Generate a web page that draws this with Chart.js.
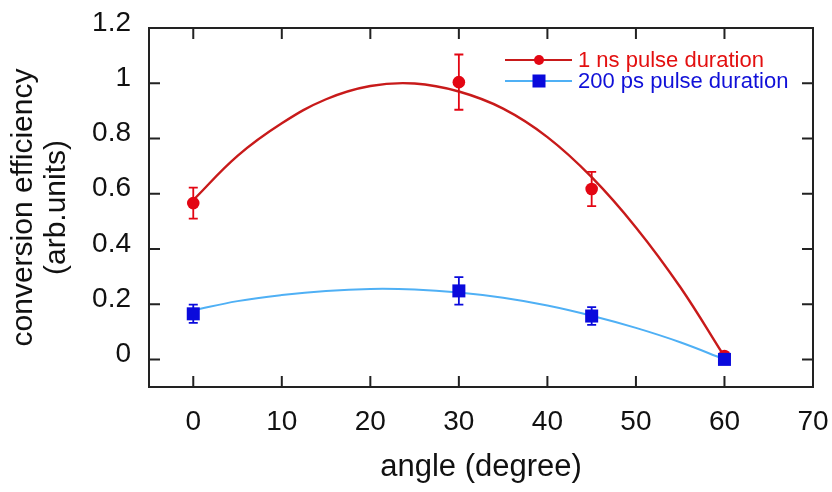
<!DOCTYPE html>
<html>
<head>
<meta charset="utf-8">
<script src="https://cdn.jsdelivr.net/npm/chart.js@4"></script>
<style>
  html, body { margin: 0; padding: 0; background: #fff; }
  #wrap { width: 832px; height: 492px; }
</style>
</head>
<body>
<div id="wrap"><canvas id="c" width="832" height="492"></canvas></div>
<script>
// ---- data ----
const xTicks = [0, 10, 20, 30, 40, 50, 60, 70];
const yTicks = [0, 0.2, 0.4, 0.6, 0.8, 1, 1.2];
const yTickLabels = ['0', '0.2', '0.4', '0.6', '0.8', '1', '1.2'];

const angles = [0, 30, 45, 60];
const ns1Values = [0.566, 1.004, 0.617, 0.012];
const ns1Errors = [0.056, 0.100, 0.062, 0];
const ps200Values = [0.165, 0.248, 0.157, 0.000];
const ps200Errors = [0.033, 0.050, 0.032, 0];

const fitAngles = [0, 5, 10, 15, 20, 25, 30, 35, 40, 45, 50, 55, 60];
const ns1Fit   = [0.577, 0.737, 0.855, 0.942, 0.990, 0.999, 0.970, 0.908, 0.805, 0.660, 0.478, 0.262, 0.010];
const ps200Fit = [0.178, 0.211, 0.233, 0.248, 0.255, 0.253, 0.242, 0.223, 0.195, 0.158, 0.114, 0.062, 0.000];

const seriesLabels = ['1 ns pulse duration', '200 ps pulse duration'];

// ---- helpers ----
const pts = (xs, ys) => xs.map((x, i) => ({ x: x, y: ys[i] }));
const FONT = "'Liberation Sans', Arial, Helvetica, sans-serif";
Chart.defaults.font.family = FONT;
Chart.defaults.color = '#111';

const RED_PT = '#e30613', RED_LINE = '#c81a1a';
const BLUE_PT = '#0a0adc', BLUE_LINE = '#4fb0f5';

const errorBars = {
  id: 'errorBars',
  beforeDatasetsDraw(chart) {
    const ctx = chart.ctx, xs = chart.scales.x, ys = chart.scales.y;
    chart.data.datasets.forEach((ds) => {
      if (!ds.errors) return;
      ctx.save();
      ctx.strokeStyle = ds.borderColor;
      ctx.lineWidth = 1.8;
      ds.data.forEach((p, i) => {
        const e = ds.errors[i];
        if (!e) return;
        const px = xs.getPixelForValue(p.x);
        const y1 = ys.getPixelForValue(p.y + e);
        const y2 = ys.getPixelForValue(p.y - e);
        ctx.beginPath();
        ctx.moveTo(px, y1); ctx.lineTo(px, y2);
        ctx.moveTo(px - 4.5, y1); ctx.lineTo(px + 4.5, y1);
        ctx.moveTo(px - 4.5, y2); ctx.lineTo(px + 4.5, y2);
        ctx.stroke();
      });
      ctx.restore();
    });
  }
};

const frameTicks = {
  id: 'frameTicks',
  afterDatasetsDraw(chart) {
    const ctx = chart.ctx, a = chart.chartArea;
    const xs = chart.scales.x, ys = chart.scales.y;
    const L = 11;
    ctx.save();
    ctx.strokeStyle = '#222';
    ctx.lineWidth = 2;
    ctx.beginPath();
    xs.ticks.forEach(t => {
      const px = xs.getPixelForValue(t.value);
      ctx.moveTo(px, a.bottom); ctx.lineTo(px, a.bottom - L);
      ctx.moveTo(px, a.top); ctx.lineTo(px, a.top + L);
    });
    ys.ticks.forEach(t => {
      const py = ys.getPixelForValue(t.value);
      ctx.moveTo(a.left, py); ctx.lineTo(a.left + L, py);
      ctx.moveTo(a.right, py); ctx.lineTo(a.right - L, py);
    });
    ctx.stroke();
    ctx.strokeRect(a.left, a.top, a.right - a.left, a.bottom - a.top);
    ctx.restore();
  }
};

const lineLegend = {
  id: 'lineLegend',
  afterDraw(chart) {
    const ctx = chart.ctx, a = chart.chartArea;
    const x0 = a.right - 308, x1 = a.right - 241, xm = a.right - 274, xt = a.right - 235;
    let y = a.top + 32;
    ctx.save();
    ctx.font = '22px ' + FONT;
    ctx.textBaseline = 'middle';
    ctx.textAlign = 'left';
    seriesLabels.forEach(lbl => {
      const ds = chart.data.datasets.find(d => d.label === lbl && d.legendLine);
      if (!ds) return;
      ctx.strokeStyle = ds.legendLine;
      ctx.lineWidth = 2;
      ctx.beginPath(); ctx.moveTo(x0, y); ctx.lineTo(x1, y); ctx.stroke();
      ctx.fillStyle = ds.backgroundColor;
      if (ds.pointStyle === 'rect') {
        ctx.fillRect(xm - 6.5, y - 6.5, 13, 13);
      } else {
        ctx.beginPath(); ctx.arc(xm, y, 5, 0, Math.PI * 2); ctx.fill();
      }
      ctx.fillStyle = ds.textColor;
      ctx.fillText(ds.label, xt, y + 1);
      y += 21;
    });
    ctx.restore();
  }
};

new Chart(document.getElementById('c'), {
  type: 'line',
  data: {
    datasets: [
      {
        label: seriesLabels[1], data: pts(angles, ps200Values), errors: ps200Errors,
        showLine: false, pointStyle: 'rect', pointRadius: 9.2, pointHoverRadius: 9.2,
        backgroundColor: BLUE_PT, borderColor: BLUE_PT, borderWidth: 0,
        legendLine: BLUE_LINE, textColor: '#1010d8', order: 0
      },
      {
        label: seriesLabels[0], data: pts(angles, ns1Values), errors: ns1Errors,
        showLine: false, pointStyle: 'circle', pointRadius: 6.3, pointHoverRadius: 6.3,
        backgroundColor: RED_PT, borderColor: RED_PT, borderWidth: 0,
        legendLine: RED_LINE, textColor: '#e31010', order: 1
      },
      {
        label: 'fit 200 ps', data: pts(fitAngles, ps200Fit),
        borderColor: BLUE_LINE, borderWidth: 2, pointRadius: 0,
        tension: 0.4, fill: false, order: 2
      },
      {
        label: 'fit 1 ns', data: pts(fitAngles, ns1Fit),
        borderColor: RED_LINE, borderWidth: 2.4, pointRadius: 0,
        tension: 0.4, fill: false, order: 3
      }
    ]
  },
  options: {
    responsive: false,
    animation: false,
    events: [],
    layout: { padding: { top: 28, right: 19, left: 0, bottom: 0 } },
    plugins: { legend: { display: false }, tooltip: { enabled: false } },
    scales: {
      x: {
        type: 'linear', min: -5, max: 70,
        afterBuildTicks: s => { s.ticks = xTicks.map(v => ({ value: v })); },
        afterFit: s => { s.height = 105; s.paddingLeft = 0; s.paddingRight = 0; },
        grid: { display: false, drawTicks: false },
        border: { display: false },
        ticks: { padding: 18, font: { size: 28 }, color: '#111',
                 callback: v => String(v) },
        title: { display: true, text: 'angle (degree)', font: { size: 31 },
                 color: '#111', padding: { top: 0, bottom: 6 } }
      },
      y: {
        type: 'linear', min: -0.1, max: 1.2,
        afterBuildTicks: s => { s.ticks = yTicks.map(v => ({ value: v })); },
        afterFit: s => { s.width = 149; s.paddingTop = 0; s.paddingBottom = 0; },
        grid: { display: false, drawTicks: false },
        border: { display: false },
        ticks: { padding: 18, labelOffset: -5, font: { size: 28 }, color: '#111',
                 callback: v => yTickLabels[yTicks.indexOf(v)] },
        title: { display: true, text: ['conversion efficiency', '(arb.units)'],
                 font: { size: 30, lineHeight: 1.1 }, color: '#111',
                 padding: { top: 7, bottom: 0 } }
      }
    }
  },
  plugins: [errorBars, frameTicks, lineLegend]
});
</script>
</body>
</html>
